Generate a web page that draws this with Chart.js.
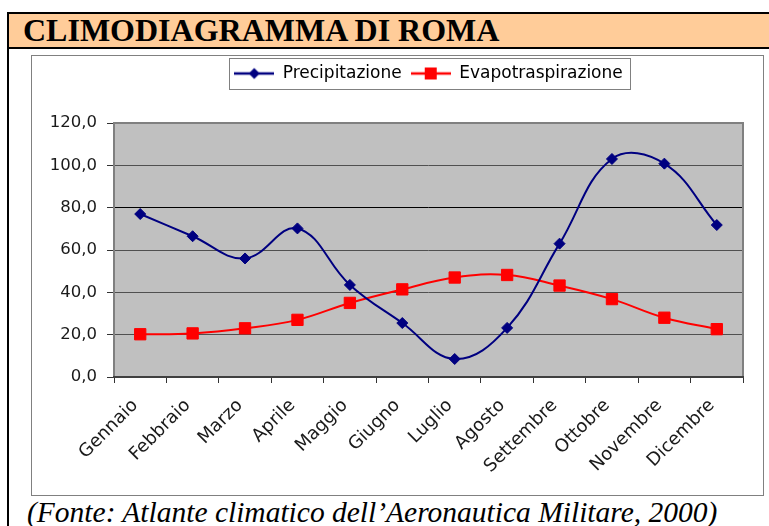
<!DOCTYPE html>
<html>
<head>
<meta charset="utf-8">
<title>Climodiagramma di Roma</title>
<script src="https://cdn.jsdelivr.net/npm/chart.js@4.4.1/dist/chart.umd.min.js"></script>
<style>
  body { margin: 0; background: #fff; width: 769px; height: 526px; overflow: hidden; position: relative; }
  #frame { position: absolute; left: 7px; top: 12px; width: 800px; height: 600px; border: 2px solid #000; }
  #title { height: 33px; background: #FFCC99; border-bottom: 2px solid #000; font: bold 32px "Liberation Serif"; line-height: 33px; padding-left: 14px; color: #000; white-space: nowrap; }
  #box { position: absolute; left: 31px; top: 55px; width: 731px; height: 439px; border: 1px solid #808080; background: #fff; }
  #footer { position: absolute; left: 27px; top: 498px; font: italic 29.5px "Liberation Serif"; line-height: 1; color: #000; white-space: nowrap; }
</style>
</head>
<body>
<div id="frame"><div id="title">CLIMODIAGRAMMA DI ROMA</div></div>
<div id="box"><canvas id="chart" width="731" height="439"></canvas></div>
<div id="footer">(Fonte: Atlante climatico dell’Aeronautica Militare, 2000)</div>
<script>
var mesi = ['Gennaio', 'Febbraio', 'Marzo', 'Aprile', 'Maggio', 'Giugno', 'Luglio', 'Agosto', 'Settembre', 'Ottobre', 'Novembre', 'Dicembre'];
var precipitazione = [77.0, 66.5, 56.0, 70.2, 43.5, 25.5, 8.5, 23.2, 63.0, 103.0, 100.8, 71.8];
var evapotraspirazione = [20.2, 20.6, 23.0, 27.0, 35.0, 41.4, 47.0, 48.2, 43.2, 36.8, 28.0, 22.6];
var yTicks = [0, 20, 40, 60, 80, 100, 120];

var blu = '#000080';
var rosso = '#FF0000';

// little line+marker icons for the legend
function legendIcon(color, shape) {
  var c = document.createElement('canvas');
  c.width = 40; c.height = 14;
  var g = c.getContext('2d');
  g.strokeStyle = color; g.lineWidth = 2.5;
  g.beginPath(); g.moveTo(0, 7); g.lineTo(40, 7); g.stroke();
  g.fillStyle = color;
  if (shape === 'diamond') {
    g.beginPath(); g.moveTo(20, 1.5); g.lineTo(25.5, 7); g.lineTo(20, 12.5); g.lineTo(14.5, 7); g.closePath(); g.fill();
  } else {
    g.fillRect(14, 1, 12, 12);
  }
  return c;
}
var icone = [legendIcon(blu, 'diamond'), legendIcon(rosso, 'square')];

var legendShift = 33;

var plotBg = {
  id: 'plotBg',
  beforeInit: function(chart) {
    var fit = chart.legend.fit;
    chart.legend.fit = function() {
      fit.call(this);
      this.height += 31;
    };
  },
  afterLayout: function(chart) {
    chart.legend.left += legendShift;
    chart.legend.right += legendShift;
  },
  beforeDraw: function(chart) {
    var a = chart.chartArea, ctx = chart.ctx;
    ctx.save();
    ctx.fillStyle = '#C0C0C0';
    ctx.fillRect(a.left, a.top, a.right - a.left, a.bottom - a.top);
    ctx.restore();
  },
  beforeDatasetsDraw: function(chart) {
    var a = chart.chartArea, ctx = chart.ctx;
    ctx.save();
    ctx.lineWidth = 2;
    ctx.strokeStyle = '#808080';
    ctx.beginPath();
    ctx.moveTo(a.left, a.bottom); ctx.lineTo(a.left, a.top); ctx.lineTo(a.right, a.top); ctx.lineTo(a.right, a.bottom);
    ctx.stroke();
    ctx.strokeStyle = '#404040';
    ctx.beginPath(); ctx.moveTo(a.left - 1, a.bottom); ctx.lineTo(a.right + 1, a.bottom); ctx.stroke();
    ctx.restore();
  },
  afterDraw: function(chart) {
    var lg = chart.legend;
    var pad = lg.options.labels.padding;
    var lw = lg.lineWidths[0];
    var x0 = (lg.left + pad + lg.right - lw) / 2;
    var x1 = x0 + lw - pad;
    var ctx = chart.ctx;
    ctx.save();
    ctx.strokeStyle = '#808080';
    ctx.lineWidth = 1;
    ctx.strokeRect(Math.round(x0 - 5) + 0.5, 2.5, Math.round(x1 - x0 + 12), 31);
    ctx.restore();
  }
};

new Chart(document.getElementById('chart'), {
  type: 'line',
  data: {
    labels: mesi,
    datasets: [{
      label: 'Precipitazione',
      data: precipitazione,
      borderColor: blu,
      backgroundColor: blu,
      borderWidth: 2,
      tension: 0.4,
      pointStyle: 'rectRot',
      pointRadius: 5.5,
      pointBorderWidth: 1
    }, {
      label: 'Evapotraspirazione',
      data: evapotraspirazione,
      borderColor: rosso,
      backgroundColor: rosso,
      borderWidth: 2,
      tension: 0.4,
      pointStyle: 'rect',
      pointRadius: 8,
      pointBorderWidth: 1
    }]
  },
  options: {
    responsive: false,
    animation: false,
    layout: { padding: { left: 16, right: 20, top: 0, bottom: 0 } },
    plugins: {
      tooltip: { enabled: false },
      legend: {
        position: 'top',
        labels: {
          usePointStyle: true,
          pointStyleWidth: 40,
          padding: 9,
          color: '#000',
          font: { family: 'DejaVu Sans', size: 17 },
          generateLabels: function(chart) {
            var items = Chart.defaults.plugins.legend.labels.generateLabels(chart);
            items.forEach(function(it, i) { it.pointStyle = icone[i]; });
            return items;
          }
        }
      }
    },
    scales: {
      x: {
        offset: true,
        afterFit: function(s) { s.height = 118; },
        grid: { offset: true, drawOnChartArea: false, tickLength: 6, color: '#333' },
        border: { display: false },
        ticks: {
          maxRotation: 45, minRotation: 45, padding: 12, labelOffset: -5,
          color: '#1a1a1a',
          font: { family: 'DejaVu Sans', size: 18 }
        }
      },
      y: {
        min: 0, max: 120,
        afterFit: function(s) { s.width = 66; },
        afterBuildTicks: function(s) { s.ticks = yTicks.map(function(v) { return { value: v }; }); },
        grid: {
          tickLength: 7,
          tickColor: '#333',
          color: function(ctx) { return ctx.tick && ctx.tick.value === 80 ? '#000' : '#505050'; }
        },
        border: { display: false },
        ticks: {
          padding: 10,
          color: '#1a1a1a',
          font: { family: 'DejaVu Sans', size: 16.5 },
          callback: function(v) { return v.toFixed(1).replace('.', ','); }
        }
      }
    }
  },
  plugins: [plotBg]
});
</script>
</body>
</html>
